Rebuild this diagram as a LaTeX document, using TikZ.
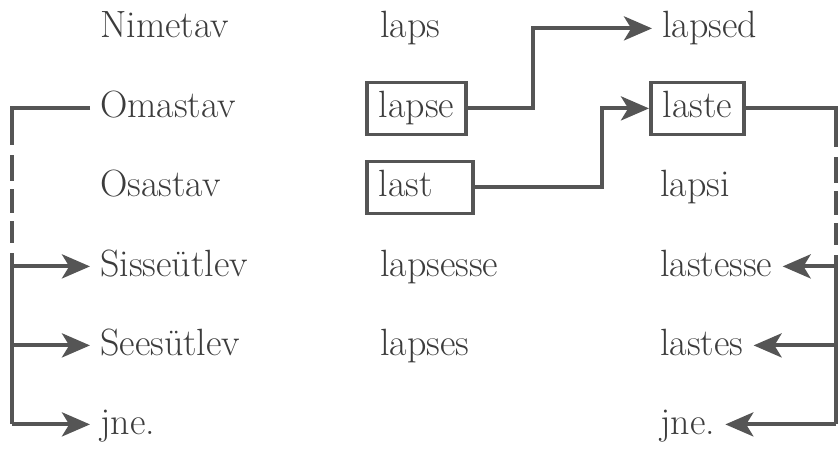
\documentclass[tikz,border=0pt]{standalone}
\usetikzlibrary{arrows.meta}
\definecolor{ink}{HTML}{3C3C3C}
\definecolor{rule}{HTML}{555555}
\tikzset{
  word/.style={anchor=base west, inner xsep=0.25cm, inner ysep=0pt, text=ink,
    font=\fontsize{27}{32}\selectfont, text height=0.7cm, text depth=0.22cm},
  wordbox/.style={word, draw=rule, line width=0.09cm, inner xsep=0.3cm, minimum height=1.3cm},
  link/.style={draw=rule, line width=0.1cm},
  arr/.style={link, -{Stealth[length=0.7cm,width=0.6cm,inset=0.18cm]}},
  lbrace/.style={link, dash pattern=on 2.875cm off 0.25cm on 0.65cm off 0.2cm on 0.6cm off 0.2cm on 0.55cm off 0.25cm on 12cm},
  rbrace/.style={link, dash pattern=on 3.225cm off 0.25cm on 0.65cm off 0.2cm on 0.6cm off 0.2cm on 0.55cm off 0.25cm on 12cm},
}
\begin{document}
\begin{tikzpicture}[x=0.025cm, y=-0.025cm]
  \useasboundingbox (0,0) rectangle (840,452);

  % case names
  \node[word] (nim) at (90,38) {Nimetav};
  \node[word] (oma) at (90,118) {Omastav};
  \node[word] (osa) at (90,197) {Osastav};
  \node[word] (sis) at (90,276) {Sisseütlev};
  \node[word] (see) at (90,355) {Seesütlev};
  \node[word] (jne) at (90,434) {jne.};

  % singular
  \node[word] (laps) at (370,38) {laps};
  \node[wordbox] (lapse) at (365,118) {lapse};
  \node[wordbox, text width=2.06cm, align=left] (last) at (365,197) {last};
  \node[word] (lapsesse) at (370,276) {lapsesse};
  \node[word] (lapses) at (370,355) {lapses};

  % plural
  \node[word] (lapsed) at (652,38) {lapsed};
  \node[wordbox] (laste) at (649,118) {laste};
  \node[word] (lapsi) at (650,197) {lapsi};
  \node[word] (lastesse) at (650,276) {lastesse};
  \node[word] (lastes) at (650,355) {lastes};
  \node[word] (jnep) at (650,434) {jne.};

  \coordinate (k1) at (533,0);
  \coordinate (k2) at (602,0);
  \coordinate (lt) at (12,0);
  \coordinate (rt) at (836,0);

  % stem changes
  \draw[arr] (lapse.east) -| (k1 |- lapsed.west) -- (lapsed.west);
  \draw[arr] (last.east) -| (k2 |- laste.west) -- (laste.west);

  % left bracket
  \draw[lbrace] (oma.west) -- (lt |- oma.west) -- (lt |- jne.west);
  \draw[arr] (lt |- sis.west) -- (sis.west);
  \draw[arr] (lt |- see.west) -- (see.west);
  \draw[arr] (lt |- jne.west) -- (jne.west);

  % right bracket
  \draw[rbrace] (laste.east) -- (rt |- laste.east) -- (rt |- jnep.east);
  \draw[arr] (rt |- lastesse.east) -- (lastesse.east);
  \draw[arr] (rt |- lastes.east) -- (lastes.east);
  \draw[arr] (rt |- jnep.east) -- (jnep.east);
\end{tikzpicture}
\end{document}
